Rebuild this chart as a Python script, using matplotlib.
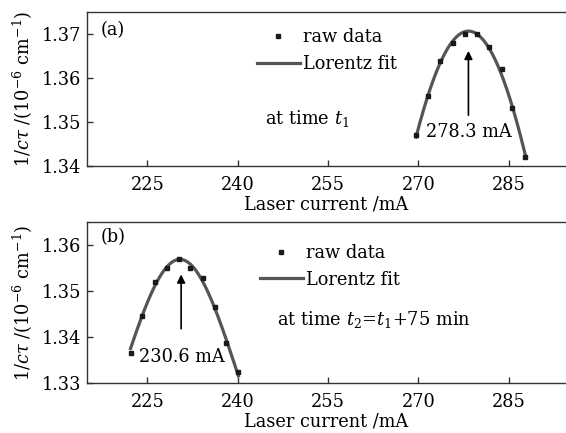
import numpy as np
import matplotlib
matplotlib.use('Agg')
import matplotlib.pyplot as plt

plt.rcParams['font.family'] = ['DejaVu Serif']
plt.rcParams['mathtext.fontset'] = 'dejavuserif'
plt.rcParams['font.size'] = 12

# ---- data ----
# (a) at time t1
current_a = [269.6, 271.6, 273.6, 275.7, 277.7, 279.7, 281.7, 283.8, 285.6, 287.7]
loss_a = [1.3470, 1.3560, 1.3639, 1.3679, 1.3699, 1.3699, 1.3670, 1.3620, 1.3531, 1.3421]
peak_a = 278.3

# (b) at time t2 = t1 + 75 min
current_b = [222.2, 224.1, 226.2, 228.2, 230.2, 232.1, 234.2, 236.2, 238.1, 240.1]
loss_b = [1.3366, 1.3446, 1.3519, 1.3549, 1.3569, 1.3549, 1.3529, 1.3466, 1.3386, 1.3323]
peak_b = 230.6

xticks = [225, 240, 255, 270, 285]
yticks_a = [1.34, 1.35, 1.36, 1.37]
yticks_b = [1.33, 1.34, 1.35, 1.36]

LINE_COLOR = '#555555'
DOT_COLOR = '#1a1a1a'
SPINE_COLOR = '#333333'


def lorentz(x, y0, h, xc, w):
    return y0 + h / (1 + ((x - xc) / w) ** 2)


def lorentz_fit(x, y):
    '''crude least squares: grid over xc, w; y0 and h are linear'''
    x = np.asarray(x)
    y = np.asarray(y)
    best = None
    for xc in np.arange(x.min(), x.max(), 0.1):
        for w in np.arange(2.0, 40.0, 0.5):
            L = 1 / (1 + ((x - xc) / w) ** 2)
            A = np.column_stack([np.ones_like(x), L])
            coef = np.linalg.lstsq(A, y, rcond=None)[0]
            err = np.sum((A @ coef - y) ** 2)
            if best is None or err < best[0]:
                best = (err, coef[0], coef[1], xc, w)
    return best[1:]


def draw_panel(ax, x, y, yticks, ylim, tag, legend_anchor):
    x = np.asarray(x)
    para = lorentz_fit(x, y)
    xf = np.linspace(x.min(), x.max(), 200)
    ax.plot(xf, lorentz(xf, *para), color=LINE_COLOR, lw=2.3, label='Lorentz fit', zorder=2)
    ax.plot(x, y, 's', ms=2.6, color=DOT_COLOR, label='raw data', zorder=3)

    ax.set_xlim(215, 294.5)
    ax.set_ylim(*ylim)
    ax.set_xticks(xticks)
    ax.set_yticks(yticks)
    ax.set_yticklabels(['%.2f' % v for v in yticks])
    ax.tick_params(direction='in', length=4, width=1, color=SPINE_COLOR, labelsize=12.8)
    ax.tick_params(axis='x', pad=7)
    ax.tick_params(axis='y', pad=4)
    ax.spines['right'].set_visible(False)
    for s in ['top', 'left', 'bottom']:
        ax.spines[s].set_color(SPINE_COLOR)
        ax.spines[s].set_linewidth(1.0)

    ax.set_xlabel('Laser current /mA', fontsize=12.8, labelpad=1)
    ax.set_ylabel(r'1/$c\tau$ /(10$^{-6}$ cm$^{-1}$)', fontsize=12.8, labelpad=5)
    ax.text(0.028, tag[1], tag[0], transform=ax.transAxes, fontsize=12.8, va='center', ha='left')

    h, l = ax.get_legend_handles_labels()
    ax.legend(h[::-1], l[::-1], loc='upper left', bbox_to_anchor=legend_anchor, frameon=False,
              borderpad=0, handlelength=2.4, handletextpad=0.2, labelspacing=0.5,
              fontsize=12.8, borderaxespad=0)


fig = plt.figure(figsize=(5.66, 4.33), dpi=100)
ax1 = fig.add_axes([0.154, 0.6166, 0.846, 0.3557])
ax2 = fig.add_axes([0.154, 0.1155, 0.846, 0.3718])

draw_panel(ax1, current_a, loss_a, yticks_a, (1.34, 1.375), ('(a)', 0.883), (0.355, 0.895))
draw_panel(ax2, current_b, loss_b, yticks_b, (1.33, 1.365), ('(b)', 0.907), (0.361, 0.865))

ax1.annotate('', xy=(peak_a, 1.3668), xytext=(peak_a, 1.3509),
             arrowprops=dict(arrowstyle='-|>', color='k', lw=1.2, mutation_scale=12))
ax1.text(peak_a, 1.3477, '%.1f mA' % peak_a, ha='center', va='center', fontsize=12.8)
ax1.text(244.6, 1.3509, r'at time $t_1$', ha='left', va='center', fontsize=12.8)

ax2.annotate('', xy=(peak_b, 1.3542), xytext=(peak_b, 1.3412),
             arrowprops=dict(arrowstyle='-|>', color='k', lw=1.2, mutation_scale=12))
ax2.text(230.8, 1.3357, '%.1f mA' % peak_b, ha='center', va='center', fontsize=12.8)
ax2.text(246.6, 1.3437, r'at time $t_2$=$t_1$+75 min', ha='left', va='center', fontsize=12.8)

fig.savefig('out.png', dpi=100)
